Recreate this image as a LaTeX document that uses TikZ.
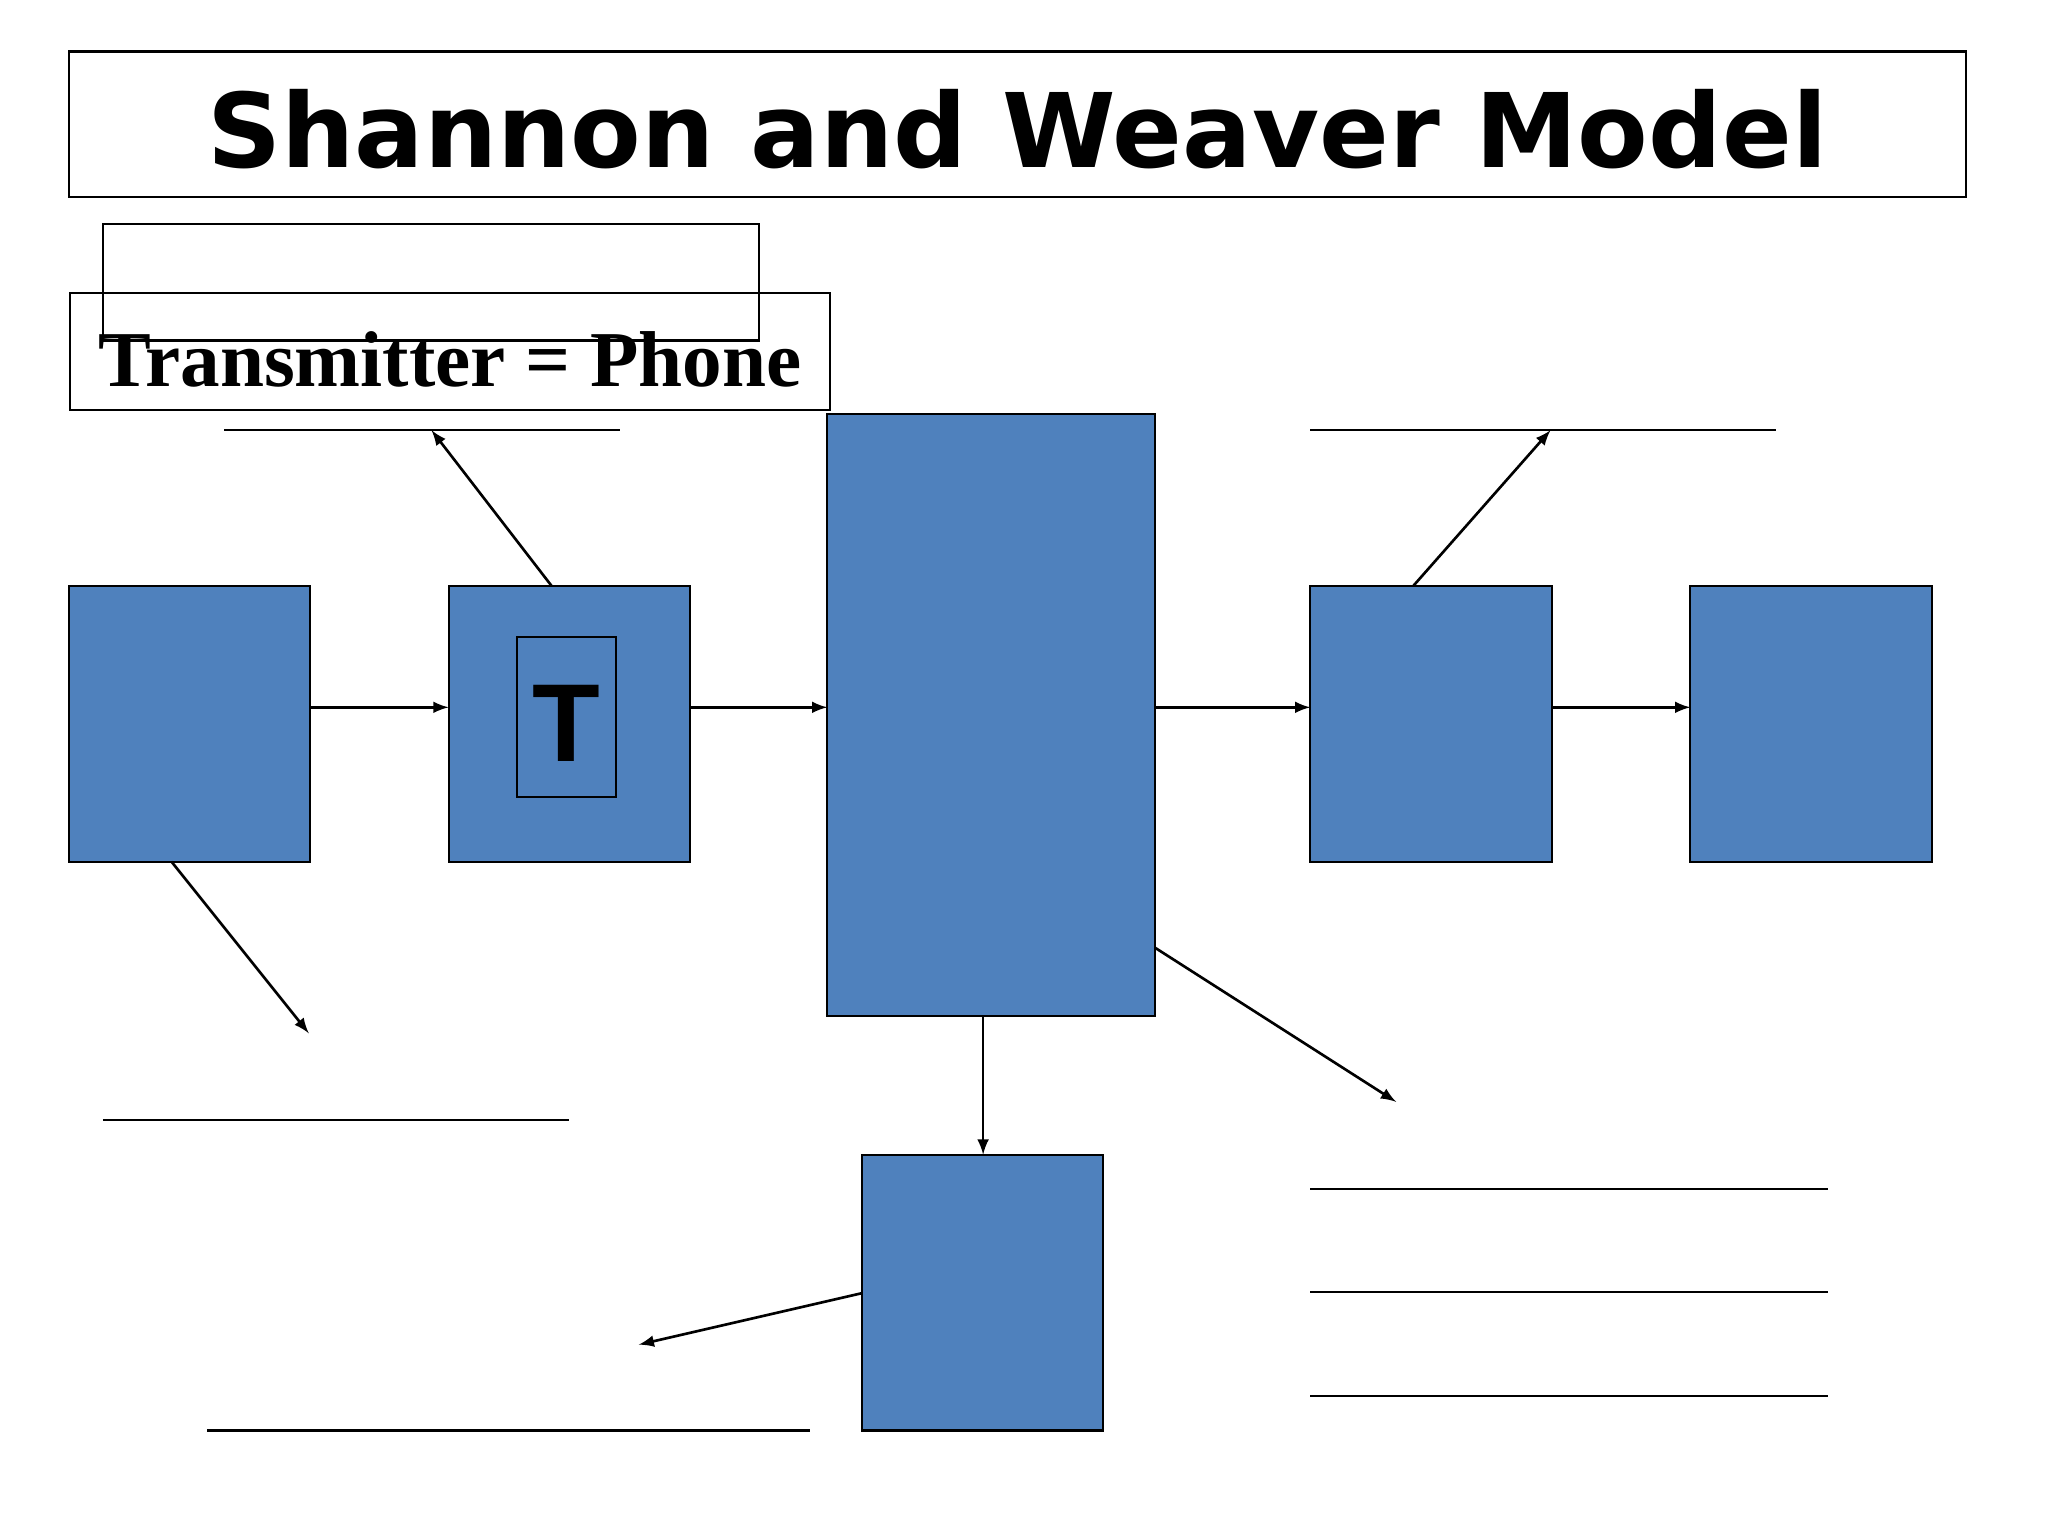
\documentclass[tikz,border=0pt]{standalone}
\usepackage{fontspec}
\newfontfamily\titlefont{DejaVu Sans}
\newfontfamily\serifb{Liberation Serif}
\newfontfamily\sansb{Liberation Sans}
\definecolor{boxblue}{HTML}{4F81BD}
\begin{document}
\begin{tikzpicture}[x=0.5pt,y=-0.5pt,
  blk/.style={draw=black,fill=boxblue,line width=0.8pt},
  frame/.style={draw=black,line width=0.8pt},
  arr/.style={-latex,line width=1pt},
  blank/.style={line width=0.8pt}]
\useasboundingbox (0,0) rectangle (1552,1164);
\fill[white] (0,0) rectangle (1552,1164);
% title
\draw[frame] (52,39) rectangle (1490,149);
\node (title) at (771,98) {\titlefont\bfseries\fontsize{39}{44}\selectfont Shannon and Weaver Model};
% label boxes
\draw[frame] (78,170) rectangle (575,258);
\draw[frame] (53,222) rectangle (629,311);
\node (tp) at (341,272) {\serifb\bfseries\fontsize{30}{34}\selectfont Transmitter = Phone};
% blocks
\path[blk] (52,444) rectangle (235,653); \coordinate (A) at (143.5,548.5);
\path[blk] (340,444) rectangle (523,653);
\path[blk] (627,314) rectangle (875,770);
\path[blk] (993,444) rectangle (1176,653);
\path[blk] (1281,444) rectangle (1464,653);
\path[blk] (653,875) rectangle (836,1084);
\draw[frame] (392,483) rectangle (467,604);
\node (T) at (429.5,548) {\sansb\bfseries\fontsize{42}{46}\selectfont T};
% arrows
\coordinate (a1) at (235,536); \coordinate (b0) at (340,536);
\coordinate (b1) at (523,536); \coordinate (c0) at (627,536);
\coordinate (c1) at (875,536); \coordinate (d0) at (993,536);
\coordinate (d1) at (1176,536); \coordinate (e0) at (1281,536);
\draw[arr] (a1) -- (b0);
\draw[arr] (b1) -- (c0);
\draw[arr] (c1) -- (d0);
\draw[arr] (d1) -- (e0);
\coordinate (cb) at (745,770); \coordinate (ft) at (745,875);
\draw[arr] (cb) -- (ft);
\coordinate (bt) at (418,444); \coordinate (l1) at (327,326);
\draw[arr] (bt) -- (l1);
\coordinate (dt) at (1071,444); \coordinate (l2) at (1175,326);
\draw[arr] (dt) -- (l2);
\coordinate (ab) at (130,653); \coordinate (l3) at (234,783);
\draw[arr] (ab) -- (l3);
\coordinate (cr) at (875,718); \coordinate (l4) at (1058,835);
\draw[arr] (cr) -- (l4);
\coordinate (fl) at (653,980); \coordinate (l5) at (484,1019);
\draw[arr] (fl) -- (l5);
% blanks
\draw[blank] (170,326) -- (470,326);
\draw[blank] (993,326) -- (1346,326);
\draw[blank] (78,849) -- (431,849);
\draw[blank] (157,1084) -- (614,1084);
\draw[blank] (993,901) -- (1385,901);
\draw[blank] (993,979) -- (1385,979);
\draw[blank] (993,1058) -- (1385,1058);
\end{tikzpicture}
\end{document}
